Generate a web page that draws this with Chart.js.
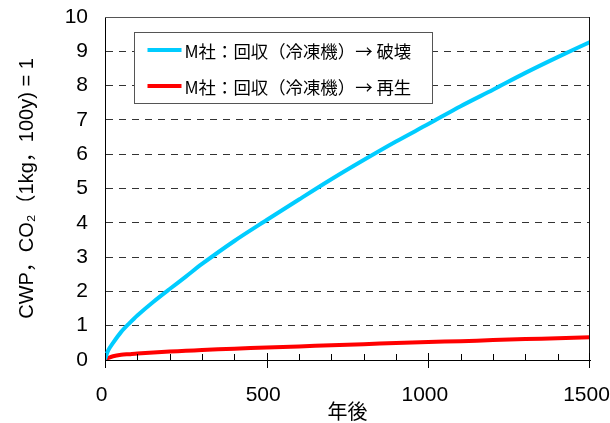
<!DOCTYPE html>
<html>
<head>
<meta charset="utf-8">
<script src="https://cdn.jsdelivr.net/npm/chart.js@4/dist/chart.umd.min.js"></script>
<style>
  html, body { margin: 0; padding: 0; background: #fff; }
  #wrap { width: 610px; height: 423px; }
</style>
</head>
<body>
<div id="wrap"><canvas id="c" width="610" height="423"></canvas></div>
<script>
// Years after recovery
const years = [0, 10, 25, 50, 75, 100, 150, 200, 250, 300, 400, 500, 600, 700, 800, 900, 1000, 1100, 1200, 1300, 1400, 1500];
// Cumulative CWP: recovered (refrigerator) -> destroyed
const destroyed = [0.02, 0.28, 0.50, 0.82, 1.07, 1.30, 1.70, 2.07, 2.43, 2.80, 3.47, 4.08, 4.68, 5.27, 5.83, 6.37, 6.88, 7.40, 7.88, 8.37, 8.83, 9.27];
// Cumulative CWP: recovered (refrigerator) -> recycled
const recycled = [0.02, 0.06, 0.11, 0.15, 0.17, 0.19, 0.22, 0.245, 0.27, 0.29, 0.33, 0.365, 0.395, 0.43, 0.46, 0.495, 0.525, 0.55, 0.58, 0.61, 0.635, 0.665];

const seriesLabels = ['M社：回収（冷凍機）→ 破壊', 'M社：回収（冷凍機）→ 再生'];
const seriesColors = ['#00ccff', '#ff0000'];
const xLabelStep = 500;   // labelled x ticks
const xMinorStep = 100;   // minor x ticks
const yTitle = 'CWP，CO₂（1kg，100y) = 1';
const xTitle = '年後';

const FONT = "'Liberation Sans', 'Noto Sans CJK JP', sans-serif";
const CJK_FONT = "'Noto Sans CJK JP', sans-serif";

const toPoints = (vals) => years.map((yr, i) => ({ x: yr, y: vals[i] }));

// Frame, x tick marks and the in-plot legend box
const decorations = {
  id: 'decorations',
  afterDraw(chart) {
    const { ctx, chartArea: a, scales } = chart;
    const xs = scales.x;
    ctx.save();
    // top and right frame
    ctx.lineWidth = 1;
    ctx.strokeStyle = '#555';
    ctx.beginPath();
    ctx.moveTo(a.left, Math.round(a.top) + 0.5);
    ctx.lineTo(a.right, Math.round(a.top) + 0.5);
    ctx.stroke();
    ctx.strokeStyle = '#111';
    ctx.beginPath();
    ctx.moveTo(Math.round(a.right) - 0.5, a.top);
    ctx.lineTo(Math.round(a.right) - 0.5, a.bottom);
    ctx.stroke();

    // x tick marks: major cross the axis, minor point inward
    ctx.strokeStyle = '#000';
    xs.ticks.forEach(t => {
      let px = Math.round(xs.getPixelForValue(t.value)) + 0.5;
      if (px > a.right) px = Math.round(a.right) - 0.5;
      const major = t.value % xLabelStep === 0;
      ctx.beginPath();
      if (major) {
        ctx.moveTo(px, a.bottom - 7);
        ctx.lineTo(px, a.bottom + 8);
      } else {
        ctx.moveTo(px, a.bottom - 6);
        ctx.lineTo(px, a.bottom);
      }
      ctx.stroke();
    });

    // legend box
    const bx = Math.round(a.left + 29) + 0.5, by = Math.round(a.top + 15) + 0.5;
    const bw = 298, bh = 71;
    ctx.fillStyle = '#fff';
    ctx.fillRect(bx, by, bw, bh);
    ctx.strokeStyle = '#555';
    ctx.lineWidth = 1;
    ctx.strokeRect(bx, by, bw, bh);
    ctx.font = `17.4px ${CJK_FONT}`;
    ctx.textBaseline = 'middle';
    ctx.textAlign = 'left';
    chart.data.datasets.forEach((ds, i) => {
      const ly = by + 17.5 + i * 36;
      ctx.strokeStyle = ds.borderColor;
      ctx.lineWidth = 4;
      ctx.beginPath();
      ctx.moveTo(bx + 13, ly);
      ctx.lineTo(bx + 47, ly);
      ctx.stroke();
      ctx.fillStyle = '#000';
      ctx.fillText(ds.label, bx + 50, ly + 1);
    });
    ctx.restore();
  }
};

new Chart(document.getElementById('c'), {
  type: 'line',
  data: {
    datasets: [
      { label: seriesLabels[0], data: toPoints(destroyed), borderColor: seriesColors[0], borderWidth: 4, pointRadius: 0, tension: 0.3, fill: false },
      { label: seriesLabels[1], data: toPoints(recycled), borderColor: seriesColors[1], borderWidth: 4, pointRadius: 0, tension: 0.3, fill: false }
    ]
  },
  options: {
    responsive: false,
    animation: false,
    layout: { padding: { left: 0, right: 20, top: 17, bottom: 0 } },
    plugins: { legend: { display: false }, tooltip: { enabled: false } },
    scales: {
      x: {
        type: 'linear',
        min: 0, max: 1500,
        ticks: {
          stepSize: xMinorStep,
          autoSkip: false,
          maxRotation: 0,
          padding: 23,
          labelOffset: -3.5,
          color: '#000',
          font: { size: 21, family: FONT },
          callback: (v) => (v % xLabelStep === 0 ? String(v) : '')
        },
        grid: { display: false, drawTicks: false },
        border: { display: true, color: '#000', width: 1 },
        title: { display: true, text: xTitle, color: '#000', font: { size: 20, family: CJK_FONT }, padding: { top: 0, bottom: 0 } },
        afterFit: (s) => { s.height = 63; s.paddingLeft = 0; s.paddingRight = 0; }
      },
      y: {
        min: 0, max: 10,
        ticks: {
          stepSize: 1,
          padding: 17,
          color: '#000',
          font: { size: 21, family: FONT }
        },
        grid: {
          drawTicks: false,
          lineWidth: 1,
          color: (ctx) => (ctx.tick && ctx.tick.value > 0 && ctx.tick.value < 10 ? '#333' : 'rgba(0,0,0,0)')
        },
        border: { display: true, color: '#000', width: 1, dash: [7, 6] },
        title: { display: true, text: yTitle, color: '#000', font: { size: 20, family: FONT }, padding: { top: 15, bottom: 0 } },
        afterFit: (s) => { s.width = 105; s.paddingTop = 0; s.paddingBottom = 0; }
      }
    }
  },
  plugins: [decorations]
});
</script>
</body>
</html>
